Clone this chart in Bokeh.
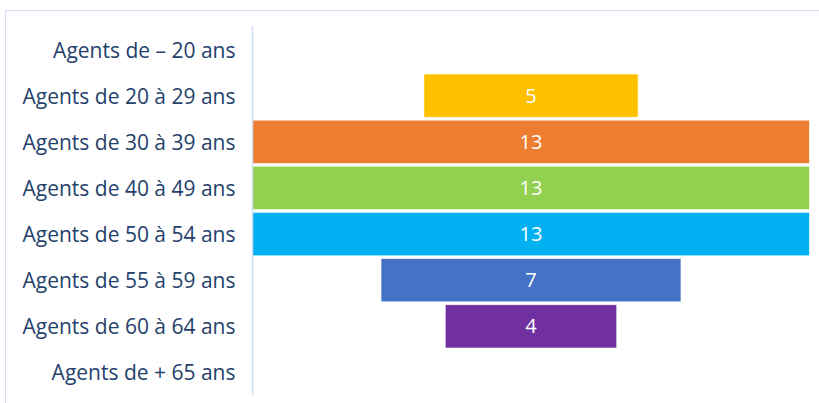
from bokeh.plotting import figure
from bokeh.models import ColumnDataSource, Range1d, FactorRange
from bokeh.core.properties import value
from bokeh.embed import file_html
from bokeh.resources import INLINE

categories = [
    "Agents de – 20 ans",
    "Agents de 20 à 29 ans",
    "Agents de 30 à 39 ans",
    "Agents de 40 à 49 ans",
    "Agents de 50 à 54 ans",
    "Agents de 55 à 59 ans",
    "Agents de 60 à 64 ans",
    "Agents de + 65 ans",
]
counts = [0, 5, 13, 13, 13, 7, 4, 0]
colors = ["#FFC000", "#FFC000", "#ED7D31", "#92D050", "#00B0F0", "#4472C4", "#7030A0", "#7030A0"]

FONT = "Open Sans"

shown = [i for i, c in enumerate(counts) if c > 0]
src = ColumnDataSource(dict(
    cat=[categories[i] for i in shown],
    left=[-counts[i] / 2 for i in shown],
    right=[counts[i] / 2 for i in shown],
    color=[colors[i] for i in shown],
    label=[str(counts[i]) for i in shown],
    x=[0 for i in shown],
))

p = figure(
    width=814, height=393,
    y_range=FactorRange(*reversed(categories)),
    x_range=Range1d(-6.5, 6.5),
    output_backend="svg", toolbar_location=None,
    min_border_left=246, min_border_right=11,
    min_border_top=15, min_border_bottom=9,
    margin=(10, 0, 0, 5),
    styles={"border-top": "1px solid #cfe0f6", "border-left": "1px solid #cfe0f6"},
)
p.outline_line_color = None
p.grid.visible = False
p.xaxis.visible = False
p.background_fill_color = "white"
p.border_fill_color = "white"

p.hbar(y="cat", left="left", right="right", height=0.94, fill_color="color",
       line_color="white", line_alpha=0.6, line_width=1, source=src)
p.text(x="x", y="cat", text="label", source=src, text_align="center",
       text_baseline="middle", text_color="white", text_font=value(FONT),
       text_font_size="20px")

ax = p.yaxis[0]
ax.axis_line_color = "#cfe0f6"
ax.axis_line_width = 1.5
ax.major_tick_line_color = None
ax.minor_tick_line_color = None
ax.major_tick_out = 0
ax.major_tick_in = 0
ax.major_label_text_font = FONT
ax.major_label_text_font_size = "21px"
ax.major_label_text_color = "#24416b"
ax.major_label_standoff = 17

open("out.html", "w").write(file_html(p, INLINE))
